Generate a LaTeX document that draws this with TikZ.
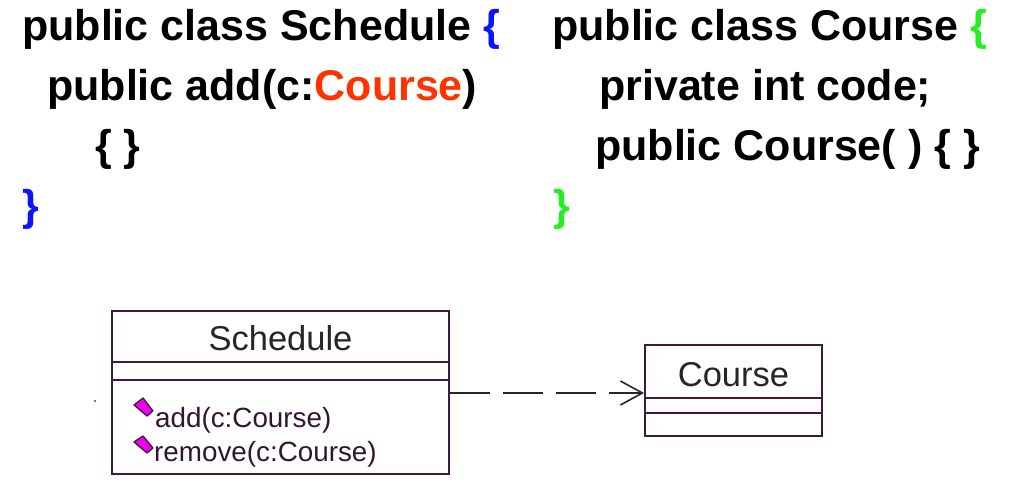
\documentclass[tikz,border=0pt]{standalone}
\usepackage{fontspec}
\setmainfont{Liberation Sans}
\usetikzlibrary{arrows.meta,shapes.geometric}
\definecolor{umlline}{HTML}{3F1A3F}
\definecolor{bblue}{HTML}{0A14FF}
\definecolor{borange}{HTML}{FF3300}
\definecolor{bgreen}{HTML}{22EE22}
\definecolor{diamfill}{HTML}{F000F0}
\begin{document}
\begin{tikzpicture}[x=1pt,y=-1pt,
  code/.style={anchor=base west,inner sep=0pt,font=\fontsize{43}{50}\selectfont\bfseries},
  umlbox/.style={draw=umlline,line width=1.8pt,inner sep=0pt},
  umltitle/.style={anchor=base,inner sep=0pt,font=\fontsize{34.5}{40}\selectfont,text=black!85},
  umlop/.style={anchor=base west,inner sep=0pt,font=\fontsize{27.8}{32}\selectfont,text=umlline!80!black},
  opmark/.style={draw=umlline,fill=diamfill,line width=1.3pt,line join=round},
  dep/.style={draw=black!85,line width=1.6pt,dash pattern=on 40pt off 13pt,-{Straight Barb[length=22pt,width=24pt,line width=1.6pt]}}
]
\useasboundingbox (0,0) rectangle (1020,483);
% code, left column
\node[code] (l1) at (22,40) {public class Schedule \textcolor{bblue}{\{}};
\node[code] (l2) at (47,100) {public add(c:\textcolor{borange}{Course})};
\node[code] (l3) at (95,160) {\{ \}};
\node[code] (l4) at (22,220) {\textcolor{bblue}{\}}};
% code, right column
\node[code] (r1) at (552,40) {public class Course \textcolor{bgreen}{\{}};
\node[code] (r2) at (599,100) {private int code;};
\node[code] (r3) at (595,160) {public Course( ) \{ \}};
\node[code] (r4) at (553,220) {\textcolor{bgreen}{\}}};
% UML Schedule
\node[umlbox,minimum width=337pt,minimum height=163pt] (sched) at (280.5,392.5) {};
\draw[umlbox] (112,362) coordinate (s1a) -- (449,362) coordinate (s1b);
\draw[umlbox] (112,380) coordinate (s2a) -- (449,380) coordinate (s2b);
\node[umltitle] (schedname) at (280.5,350) {Schedule};
\draw[opmark] (134,405) -- (143,398) -- (153,411) -- (147,416) -- cycle;
\draw[opmark] (134,442) -- (143,436) -- (153,448) -- (147,453) -- cycle;
\node[umlop] (op1) at (155,427) {add(c:Course)};
\node[umlop] (op2) at (154,461) {remove(c:Course)};
\fill[black!70] (95,401) circle (1.2pt) coordinate (dot);
% UML Course
\node[umlbox,minimum width=177pt,minimum height=91pt] (course) at (733.5,390.5) {};
\draw[umlbox] (645,398) -- (822,398);
\draw[umlbox] (645,413) -- (822,413);
\node[umltitle] (coursename) at (733.5,386) {Course};
% dependency
\draw[dep] (sched.east |- 0,393) -- (course.west |- 0,393);
\end{tikzpicture}
\end{document}
